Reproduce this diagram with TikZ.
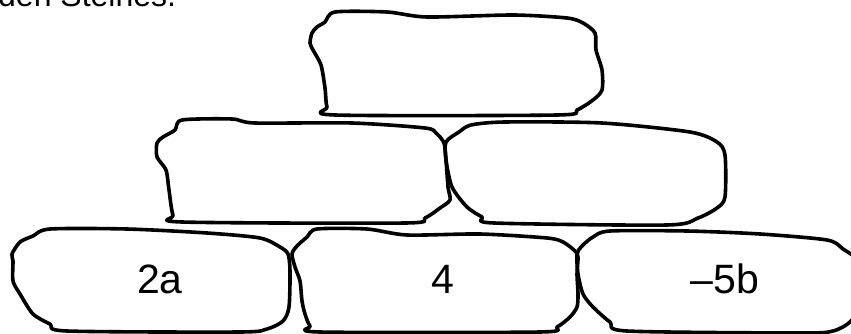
\documentclass[tikz,border=0pt]{standalone}
\usepackage{fontspec}
\setmainfont{Liberation Sans}
\begin{document}
\begin{tikzpicture}[x=1pt,y=-1pt,
  stone/.style={draw=black,line width=3.6pt,line join=round,fill=none},
  lbl/.style={font=\fontsize{41}{45}\selectfont,anchor=base,inner sep=0pt},
  hdr/.style={font=\fontsize{32}{36}\selectfont,anchor=base west,inner sep=0pt}]
\useasboundingbox (0,0) rectangle (851,334);
\node[hdr] (hdrtext) at (-2,7) {den Steines.};
% top stone
\draw[stone] plot[smooth cycle,tension=0.45] coordinates {(335,12) (387,12) (427,17) (513,15) (567,18) (583,23) (595,33) (596,50) (602,70) (602,90) (593,100) (577,110) (557,115) (335,115) (327,107) (325,88) (321,65) (313,50) (310,43) (312,33) (317,27) (325,22)};
% middle left
\draw[stone] plot[smooth cycle,tension=0.45] coordinates {(182,120) (232,119) (255,123) (352,123) (425,128) (436,133) (444,143) (446,160) (448,187) (450,200) (440,208) (425,218) (405,223) (182,222) (173,215) (169,190) (166,170) (157,157) (157,143) (163,137) (175,130)};
% middle right
\draw[stone] plot[smooth cycle,tension=0.45] coordinates {(446,142) (459,132) (471,125) (505,122) (602,123) (690,132) (717,142) (725,155) (725,197) (717,208) (698,218) (667,225) (494,223) (482,217) (467,207) (452,187) (446,160)};
% bottom left
\draw[stone] plot[smooth cycle,tension=0.45] coordinates {(50,229) (127,229) (207,233) (260,238) (280,247) (288,254) (290,271) (289,307) (283,321) (267,329) (240,332) (67,331) (50,324) (33,314) (20,294) (13,281) (13,261) (12,254) (20,242) (33,236)};
% bottom middle
\draw[stone] plot[smooth cycle,tension=0.45] coordinates {(317,229) (367,229) (407,235) (480,234) (547,238) (563,242) (575,251) (578,257) (577,274) (578,294) (577,307) (570,317) (557,327) (540,332) (320,332) (310,326) (305,314) (302,301) (300,281) (295,267) (292,254) (297,246) (307,237)};
% bottom right
\draw[stone] plot[smooth cycle,tension=0.45] coordinates {(610,231) (687,231) (760,234) (827,240) (843,249) (858,262) (862,300) (851,321) (833,331) (800,333) (627,331) (610,322) (593,307) (583,294) (578,274) (577,254) (582,246) (593,237)};
\node[lbl] (la) at (160,293) {2a};
\node[lbl] (lb) at (443,293) {4};
\node[lbl] (lc) at (725,293) {–5b};
\end{tikzpicture}
\end{document}
